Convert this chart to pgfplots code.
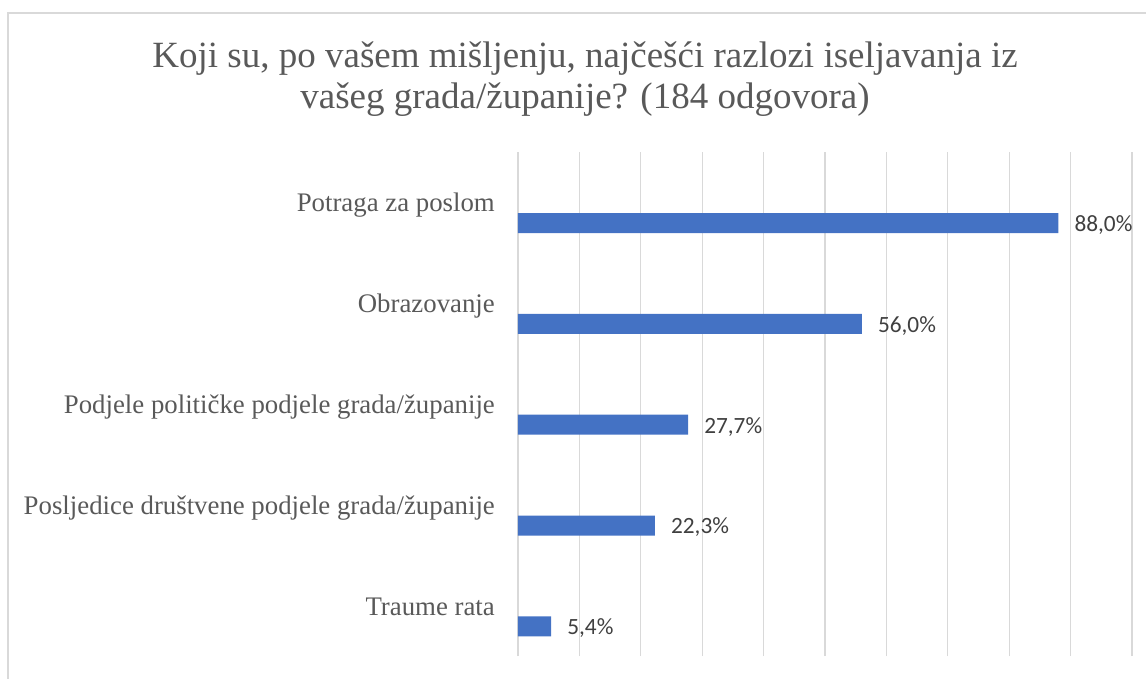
\documentclass[border=0pt]{standalone}
\usepackage{fontspec}
\setmainfont{Liberation Serif}
\newfontfamily\calibri{Carlito}
\usepackage{pgfplots}
\pgfplotsset{compat=1.18}
\definecolor{barc}{RGB}{68,114,196}
\definecolor{gridc}{RGB}{217,217,217}
\definecolor{titlec}{RGB}{89,89,89}
\definecolor{labc}{RGB}{64,64,64}
\begin{document}
\begin{tikzpicture}
\useasboundingbox (0pt,0pt) rectangle (1146pt,678pt);
\draw[gridc, line width=1.3pt] (8pt,-5pt) -- (8pt,665pt) -- (1150pt,665pt);
\node[anchor=base, text=titlec, inner sep=0pt, font=\fontsize{37}{44}\selectfont] at (585pt,610pt) {Koji su, po vašem mišljenju, najčešći razlozi iseljavanja iz};
\node[anchor=base, text=titlec, inner sep=0pt, font=\fontsize{37}{44}\selectfont] at (585pt,569pt) {vašeg grada/županije? (184 odgovora)};
\begin{axis}[at={(518pt,22pt)}, anchor=south west, width=614pt, height=504pt, scale only axis,
  xmin=0, xmax=100, ymin=-0.5, ymax=4.5,
  xtick={0,10,...,100}, xticklabels={}, xmajorgrids,
  grid style={gridc, line width=1.2pt},
  ytick={0,...,4},
  yticklabels={Traume rata, Posljedice društvene podjele grada/županije, Podjele političke podjele grada/županije, Obrazovanje, Potraga za poslom},
  yticklabel style={anchor=base east, inner sep=0pt, xshift=-23pt, yshift=-9.6pt, text=titlec, font=\fontsize{26.8}{30}\selectfont},
  axis line style={draw=none}, major tick length=0pt,
  xbar, bar width=20pt, bar shift=-20.7pt, clip=false]
\addplot[fill=barc, draw=none, point meta=x,
  nodes near coords={\pgfmathprintnumber[fixed,fixed zerofill,precision=1,use comma,assume math mode=true]{\pgfplotspointmeta}\%},
  nodes near coords style={anchor=base west, inner sep=0pt, xshift=16pt, yshift=-8.3pt, text=labc, font=\calibri\fontsize{23.3}{28}\selectfont}]
  coordinates {(5.4,0) (22.3,1) (27.7,2) (56.0,3) (88.0,4)};
\end{axis}
\end{tikzpicture}
\end{document}
